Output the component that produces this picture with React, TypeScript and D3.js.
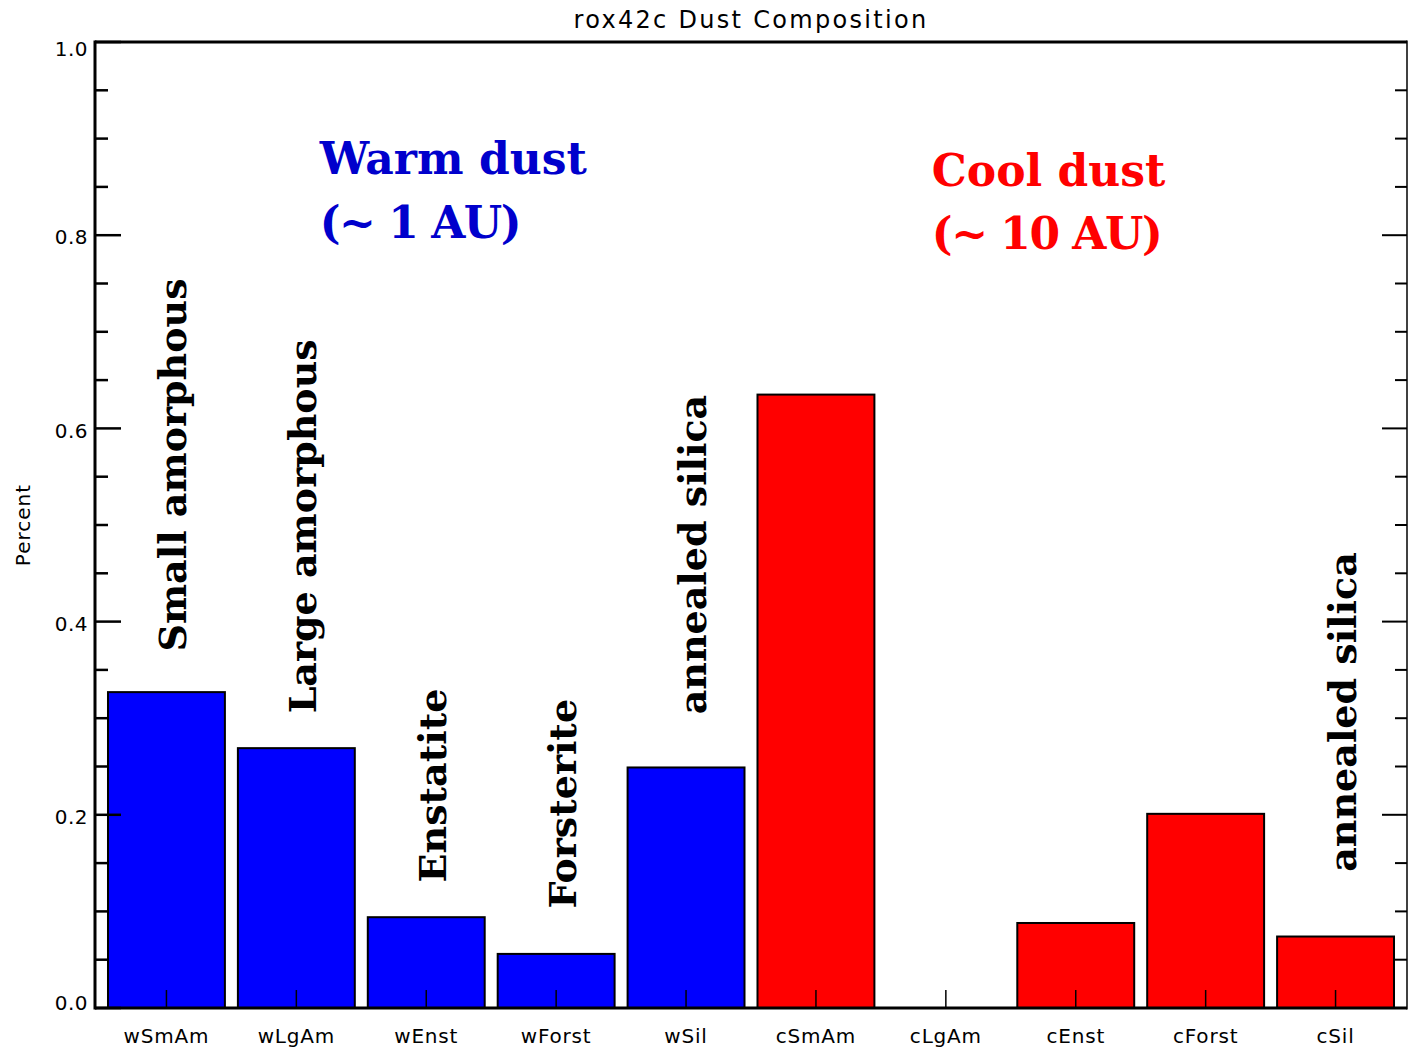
import React from "react";
import * as d3 from "d3";

// Dust composition fit for rox42c: mass fractions per grain component
const categories = ["wSmAm", "wLgAm", "wEnst", "wForst", "wSil", "cSmAm", "cLgAm", "cEnst", "cForst", "cSil"];
const fractions = [0.327, 0.269, 0.094, 0.056, 0.249, 0.635, 0.0, 0.088, 0.201, 0.074];
const temperatureGroup = ["warm", "warm", "warm", "warm", "warm", "cool", "cool", "cool", "cool", "cool"];

const yMajorTicks = [0, 0.2, 0.4, 0.6, 0.8, 1.0];
const yTickLabels = ["0.0", "0.2", "0.4", "0.6", "0.8", "1.0"];

// Mineral names written vertically above the bars, anchored in data units
const mineralNames = ["Small amorphous", "Large amorphous", "Enstatite", "Forsterite", "annealed silica", "annealed silica"];
const mineralNameCategory = ["wSmAm", "wLgAm", "wEnst", "wForst", "wSil", "cSil"];
const mineralNameStart = [0.369, 0.305, 0.13, 0.103, 0.304, 0.141];

const warmHeading = ["Warm dust", "(~ 1 AU)"];
const coolHeading = ["Cool dust", "(~ 10 AU)"];

const title = "rox42c Dust Composition";
const yTitle = "Percent";

const W = 1408;
const H = 1051;
const left = 95;
const right = 1407;
const top = 42;
const bottom = 1008;

const fill: Record<string, string> = { warm: "#0000ff", cool: "#ff0000" };
const headingColor: Record<string, string> = { warm: "#0000cc", cool: "#ff0000" };

const axisFont = "'DejaVu Sans', sans-serif";
const serifFont = "'DejaVu Serif', serif";

export default function App() {
  const x = d3.scaleBand<string>().domain(categories).range([left, right]).paddingInner(0.1).paddingOuter(0.1);
  const y = d3.scaleLinear().domain([0, 1]).range([bottom, top]);
  const minorTicks = d3.range(0, 1.0001, 0.05).filter((v) => !yMajorTicks.some((m) => Math.abs(m - v) < 1e-6));
  const bw = x.bandwidth();
  const cx = (c: string) => (x(c) as number) + bw / 2;

  const headingX = (c: string, frac: number) => (x(c) as number) + bw * frac;

  return (
    <svg
      width={W}
      height={H}
      style={{ position: "absolute", left: 0, top: 0, background: "#fff" }}
    >
      <rect x={0} y={0} width={W} height={H} fill="#fff" />

      {/* title */}
      <text
        x={(left + right) / 2}
        y={28}
        textAnchor="middle"
        fontFamily={axisFont}
        fontSize={24}
        letterSpacing={2.3}
        fill="#000"
      >
        {title}
      </text>

      {/* bars */}
      {categories.map((c, i) => (
        <rect
          key={c}
          x={x(c)}
          y={y(fractions[i])}
          width={bw}
          height={bottom - y(fractions[i])}
          fill={fill[temperatureGroup[i]]}
          stroke="#000"
          strokeWidth={2}
          opacity={fractions[i] > 0 ? 1 : 0}
        />
      ))}

      {/* x ticks at category centres */}
      {categories.map((c) => (
        <line key={"xt" + c} x1={cx(c)} x2={cx(c)} y1={bottom} y2={bottom - 18} stroke="#000" strokeWidth={1.5} />
      ))}

      {/* y ticks, left and right */}
      {yMajorTicks.map((v) => (
        <g key={"maj" + v}>
          <line x1={left} x2={left + 26} y1={y(v)} y2={y(v)} stroke="#000" strokeWidth={2.5} />
          <line x1={right} x2={right - 25} y1={y(v)} y2={y(v)} stroke="#000" strokeWidth={2} />
        </g>
      ))}
      {minorTicks.map((v) => (
        <g key={"min" + v}>
          <line x1={left} x2={left + 13} y1={y(v)} y2={y(v)} stroke="#000" strokeWidth={2.5} />
          <line x1={right} x2={right - 12} y1={y(v)} y2={y(v)} stroke="#000" strokeWidth={2} />
        </g>
      ))}

      {/* frame */}
      <line x1={left} x2={right} y1={top} y2={top} stroke="#000" strokeWidth={3} />
      <line x1={left} x2={right} y1={bottom} y2={bottom} stroke="#000" strokeWidth={3} />
      <line x1={left} x2={left} y1={top - 1.5} y2={bottom + 1.5} stroke="#000" strokeWidth={3} />
      <line x1={right} x2={right} y1={top - 1.5} y2={bottom + 1.5} stroke="#000" strokeWidth={1.5} />

      {/* y tick labels */}
      {yMajorTicks.map((v, i) => {
        const ty = Math.min(Math.max(y(v) + 2, top + 7), bottom - 5);
        return (
          <text
            key={"yl" + v}
            x={88}
            y={ty}
            dy="0.36em"
            textAnchor="end"
            fontFamily={axisFont}
            fontSize={20}
            letterSpacing={0.5}
            fill="#000"
          >
            {yTickLabels[i]}
          </text>
        );
      })}

      {/* x tick labels */}
      {categories.map((c) => (
        <text
          key={"xl" + c}
          x={cx(c)}
          y={1036}
          dy="0.36em"
          textAnchor="middle"
          fontFamily={axisFont}
          fontSize={20}
          letterSpacing={0.8}
          fill="#000"
        >
          {c}
        </text>
      ))}

      {/* y axis title */}
      <text
        transform={`translate(30, ${(top + bottom) / 2}) rotate(-90)`}
        textAnchor="middle"
        fontFamily={axisFont}
        fontSize={20}
        letterSpacing={1}
        fill="#000"
      >
        {yTitle}
      </text>

      {/* vertical mineral names */}
      {mineralNames.map((name, i) => (
        <text
          key={"mn" + i}
          transform={`translate(${cx(mineralNameCategory[i]) + 20}, ${y(mineralNameStart[i])}) rotate(-90)`}
          textAnchor="start"
          fontFamily={serifFont}
          fontWeight="bold"
          fontSize={38}
          fill="#000"
        >
          {name}
        </text>
      ))}

      {/* temperature group headings */}
      {warmHeading.map((line, i) => (
        <text
          key={"wh" + i}
          x={headingX("wLgAm", 0.7)}
          y={y(0.863) + i * 64}
          fontFamily={serifFont}
          fontWeight="bold"
          fontSize={44}
          letterSpacing={i === 1 ? -1.5 : 0}
          fill={headingColor.warm}
        >
          {line}
        </text>
      ))}
      {coolHeading.map((line, i) => (
        <text
          key={"ch" + i}
          x={headingX("cLgAm", 0.38)}
          y={y(0.851) + i * 63}
          fontFamily={serifFont}
          fontWeight="bold"
          fontSize={44}
          letterSpacing={i === 1 ? -1.5 : 0}
          fill={headingColor.cool}
        >
          {line}
        </text>
      ))}
    </svg>
  );
}
